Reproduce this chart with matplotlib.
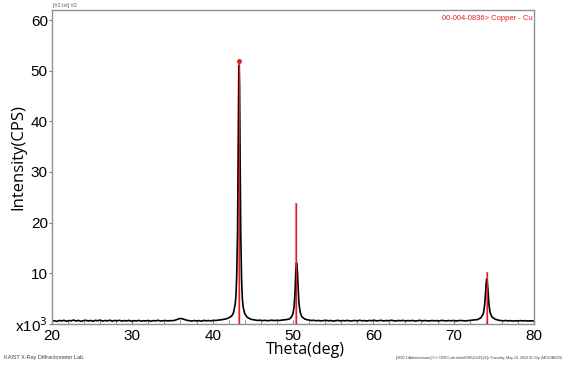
import matplotlib
matplotlib.use("Agg")
import matplotlib.pyplot as plt
import numpy as np

theta = [20.0, 20.3, 20.6, 20.9, 21.2, 21.5, 21.8, 22.1, 22.4, 22.7,
         23.0, 23.3, 23.6, 23.9, 24.2, 24.5, 24.8, 25.1, 25.4, 25.7,
         26.0, 26.3, 26.6, 26.9, 27.2, 27.5, 27.8, 28.1, 28.4, 28.7,
         29.0, 29.3, 29.6, 29.9, 30.2, 30.5, 30.8, 31.1, 31.4, 31.7,
         32.0, 32.3, 32.6, 32.9, 33.2, 33.5, 33.8, 34.1, 34.4, 34.7,
         35.0, 35.3, 35.6, 35.9, 36.2, 36.5, 36.8, 37.1, 37.4, 37.7,
         38.0, 38.3, 38.6, 38.9, 39.2, 39.5, 39.8, 40.1, 40.4, 40.7,
         41.0, 41.3, 41.6, 41.9, 42.2, 42.4, 42.6, 42.8, 42.9, 43.0,
         43.1, 43.15, 43.2, 43.25, 43.3, 43.35, 43.4, 43.45, 43.5, 43.6,
         43.7, 43.8, 44.0, 44.3, 44.7, 45.0, 45.3, 45.6, 45.9, 46.2,
         46.5, 46.8, 47.1, 47.4, 47.7, 48.0, 48.3, 48.6, 48.9, 49.2,
         49.5, 49.8, 50.0, 50.15, 50.25, 50.35, 50.45, 50.55, 50.65, 50.75,
         50.9, 51.1, 51.5, 52.0, 52.3, 52.6, 52.9, 53.2, 53.5, 53.8,
         54.1, 54.4, 54.7, 55.0, 55.3, 55.6, 55.9, 56.2, 56.5, 56.8,
         57.1, 57.4, 57.7, 58.0, 58.3, 58.6, 58.9, 59.2, 59.5, 59.8,
         60.1, 60.4, 60.7, 61.0, 61.3, 61.6, 61.9, 62.2, 62.5, 62.8,
         63.1, 63.4, 63.7, 64.0, 64.3, 64.6, 64.9, 65.2, 65.5, 65.8,
         66.1, 66.4, 66.7, 67.0, 67.3, 67.6, 67.9, 68.2, 68.5, 68.8,
         69.1, 69.4, 69.7, 70.0, 70.3, 70.6, 70.9, 71.2, 71.5, 71.8,
         72.1, 72.4, 72.7, 73.0, 73.4, 73.7, 73.85, 73.95, 74.05, 74.12,
         74.2, 74.3, 74.4, 74.55, 74.8, 75.2, 75.6, 75.9, 76.2, 76.5,
         76.8, 77.1, 77.4, 77.7, 78.0, 78.3, 78.6, 78.9, 79.2, 79.5,
         79.8, 80.0]
intensity = [0.55, 0.62, 0.48, 0.66, 0.58, 0.70, 0.52, 0.64, 0.60, 0.74,
             0.56, 0.68, 0.50, 0.63, 0.71, 0.57, 0.66, 0.52, 0.69, 0.61,
             0.74, 0.55, 0.65, 0.59, 0.72, 0.53, 0.67, 0.60, 0.70, 0.54,
             0.64, 0.58, 0.69, 0.52, 0.63, 0.57, 0.68, 0.55, 0.62, 0.58,
             0.66, 0.52, 0.64, 0.59, 0.70, 0.56, 0.61, 0.66, 0.58, 0.63,
             0.62, 0.70, 0.88, 1.05, 1.02, 0.85, 0.70, 0.62, 0.55, 0.66,
             0.58, 0.64, 0.52, 0.68, 0.60, 0.65, 0.58, 0.70, 0.66, 0.74,
             0.78, 0.86, 0.95, 1.10, 1.35, 1.6, 2.2, 3.8, 5.5, 9.5,
             18.0, 28.0, 40.0, 48.0, 51.0, 47.0, 38.0, 27.0, 18.0, 9.0,
             5.0, 3.3, 2.0, 1.3, 0.95, 0.82, 0.76, 0.68, 0.72, 0.63,
             0.70, 0.61, 0.67, 0.72, 0.64, 0.70, 0.66, 0.74, 0.78, 0.85,
             0.92, 1.30, 2.0, 3.5, 6.0, 10.0, 12.0, 10.5, 7.0, 4.0,
             2.3, 1.4, 0.92, 0.74, 0.66, 0.70, 0.60, 0.67, 0.58, 0.64,
             0.70, 0.59, 0.66, 0.55, 0.63, 0.69, 0.57, 0.65, 0.60, 0.68,
             0.56, 0.62, 0.66, 0.58, 0.71, 0.60, 0.64, 0.55, 0.67, 0.61,
             0.72, 0.58, 0.63, 0.69, 0.57, 0.65, 0.60, 0.70, 0.62, 0.56,
             0.66, 0.61, 0.68, 0.58, 0.64, 0.60, 0.67, 0.55, 0.63, 0.69,
             0.58, 0.65, 0.61, 0.57, 0.66, 0.60, 0.64, 0.56, 0.68, 0.62,
             0.58, 0.65, 0.60, 0.67, 0.57, 0.63, 0.66, 0.62, 0.58, 0.64,
             0.70, 0.74, 0.80, 0.85, 1.20, 2.0, 3.5, 5.5, 8.0, 8.8,
             8.2, 6.2, 3.8, 2.2, 1.3, 0.90, 0.72, 0.64, 0.60, 0.66,
             0.58, 0.63, 0.55, 0.61, 0.57, 0.64, 0.59, 0.62, 0.56, 0.60,
             0.58, 0.57]

# reference card 00-004-0836 Copper sticks
ref_theta = [43.30, 50.43, 74.13]
ref_int = [52.0, 23.8, 10.3]

fig = plt.figure(figsize=(5.65, 3.68), dpi=100)
ax = fig.add_axes([0.092, 0.12, 0.853, 0.853])

for t, h in zip(ref_theta, ref_int):
    ax.vlines(t, 0, h, color='#e03030', linewidth=1.6, alpha=0.55, zorder=1)
    ax.vlines(t, 0, h, color='#e02020', linewidth=0.9, zorder=3)
ax.plot(ref_theta[0], ref_int[0], 'o', color='#e02020', markersize=2.5, zorder=4)

ax.plot(theta, intensity, color='black', linewidth=1.2, zorder=2)

ax.set_xlim(20, 80)
ax.set_ylim(0, 62)

ax.set_xticks([20, 30, 40, 50, 60, 70, 80])
ax.set_xticks(np.arange(20, 81, 2), minor=True)
ax.set_yticks([0, 10, 20, 30, 40, 50, 60])
ax.set_yticklabels(['x10$^3$', '10', '20', '30', '40', '50', '60'])

tick_font = 'Liberation Sans'
for lab in ax.get_xticklabels() + ax.get_yticklabels():
    lab.set_fontfamily(tick_font)
    lab.set_fontsize(11)

ax.tick_params(axis='x', which='both', direction='in', length=3, color='#808080', pad=4)
ax.tick_params(axis='y', direction='out', length=2, color='#808080', pad=1)

for s in ax.spines.values():
    s.set_color('#909090')
    s.set_linewidth(1.0)

ax.set_xlabel('Theta(deg)', fontsize=11.5, family='Open Sans')
ax.set_ylabel('Intensity(CPS)', fontsize=12, family='Open Sans')
ax.xaxis.set_label_coords(0.525, -0.058)
ax.yaxis.set_label_coords(-0.053, 0.53)

ax.text(0.998, 0.985, '00-004-0836> Copper - Cu', transform=ax.transAxes, ha='right', va='top',
        color='#e02020', fontsize=5.5, family='Liberation Sans')
fig.text(0.093, 0.978, '[#2.txt] #2', fontsize=4, color='#606060', family='Liberation Sans',
         va='bottom')
fig.text(0.007, 0.025, 'KAIST X-Ray Diffractometer Lab.', fontsize=4, color='#404040',
         family='Liberation Sans')
fig.text(0.995, 0.025,
         '[XRD-1\\Administrator] C:\\~\\XRD Lab data\\H1\\B\\2024\\[#2]> Tuesday, May 24, 2016 01:12p (MDI/JADE9)',
         fontsize=2.6, color='#404040', family='Liberation Sans', ha='right')

fig.savefig('out.png', dpi=100)
